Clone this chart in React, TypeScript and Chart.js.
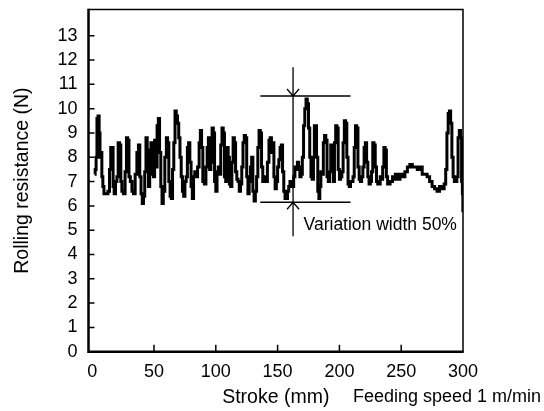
import React, { useEffect, useRef } from "react";
import { Chart, registerables } from "chart.js";
Chart.register(...registerables);

const strokeMm = [
  2.0, 2.8, 3.5, 4.2, 5.2, 6.0, 6.6, 7.4, 8.2, 9.0, 10.0, 12.0, 13.5, 14.5, 15.5, 16.5, 17.3, 18.2, 19.5, 20.5,
  21.5, 22.8, 23.5, 24.5, 26.0, 27.2, 28.2, 29.3, 30.2, 31.5, 32.8, 34.0, 35.5, 36.8, 38.0, 39.0, 40.0, 41.0, 42.0, 43.0,
  44.0, 45.0, 46.0, 47.0, 48.0, 49.0, 50.0, 51.0, 52.0, 53.0, 54.0, 55.0, 56.0, 57.0, 58.0, 59.5, 60.5, 61.5, 62.5, 63.5,
  64.5, 65.5, 66.5, 67.5, 68.5, 69.5, 70.5, 71.5, 72.5, 73.5, 74.5, 75.5, 76.5, 77.5, 78.5, 79.5, 80.5, 81.5, 82.5, 83.5,
  84.5, 86.0, 87.0, 88.0, 89.0, 90.0, 91.5, 92.5, 93.5, 94.5, 95.5, 96.5, 97.5, 98.5, 99.5, 100.5, 101.5, 102.5, 103.5, 104.5,
  105.5, 106.5, 107.5, 108.5, 109.5, 110.5, 111.5, 112.5, 113.5, 114.5, 115.5, 116.5, 117.5, 118.5, 119.5, 120.5, 121.5, 122.5, 123.5, 124.5,
  125.5, 126.5, 127.5, 128.5, 129.5, 130.5, 131.5, 132.5, 133.5, 134.5, 135.5, 136.5, 137.5, 138.5, 139.5, 141.0, 142.5, 143.5, 144.5, 145.5,
  146.5, 147.5, 148.5, 149.5, 150.5, 151.5, 152.5, 153.5, 154.5, 155.5, 156.5, 157.5, 158.5, 159.5, 160.5, 161.5, 162.5, 163.5, 164.5, 165.5,
  166.5, 167.5, 168.5, 169.5, 170.5, 171.5, 172.5, 173.5, 174.5, 175.5, 176.5, 177.5, 178.5, 179.5, 180.0, 181.0, 182.0, 183.0, 183.8, 184.5,
  185.5, 186.5, 187.5, 188.5, 189.5, 190.5, 191.5, 192.5, 193.5, 194.5, 195.5, 196.5, 197.5, 198.5, 199.5, 200.5, 201.5, 202.5, 203.5, 204.5,
  205.5, 206.5, 207.5, 208.5, 209.5, 210.5, 211.5, 212.5, 213.5, 214.5, 215.5, 216.5, 217.5, 218.5, 219.5, 220.5, 221.5, 222.5, 223.5, 224.5,
  225.5, 226.5, 227.5, 228.5, 229.5, 230.5, 231.5, 232.5, 233.5, 234.5, 235.5, 236.5, 237.5, 238.5, 239.5, 240.5, 241.5, 242.5, 243.5, 244.5,
  246.0, 248.0, 250.0, 252.0, 254.0, 256.0, 258.0, 260.0, 262.0, 264.0, 266.0, 268.0, 270.0, 272.0, 274.0, 276.0, 278.0, 280.0, 282.0, 284.0,
  285.5, 286.5, 287.5, 288.5, 289.5, 290.5, 291.5, 292.5, 293.5, 294.5, 295.5, 296.5, 297.5, 298.5, 299.2, 299.8, 300.0,
];

const resistanceN = [
  7.3, 7.5, 8.0, 9.6, 9.7, 9.0, 8.0, 8.2, 7.2, 6.8, 6.5, 6.5, 6.6, 7.5, 8.4, 8.4, 6.8, 6.5, 7.0, 7.2,
  8.6, 8.5, 7.0, 6.6, 6.5, 7.4, 8.8, 8.7, 7.2, 7.0, 6.6, 6.5, 7.3, 8.2, 8.5, 7.2, 6.5, 6.1, 6.4, 7.4,
  8.8, 8.3, 6.8, 7.3, 8.6, 8.0, 7.2, 8.7, 7.6, 9.3, 9.6, 8.2, 6.8, 6.1, 6.6, 8.0, 8.8, 8.6, 7.0, 6.4,
  6.3, 7.5, 8.6, 9.9, 9.7, 9.4, 8.8, 8.0, 7.2, 6.6, 6.4, 7.0, 7.2, 8.4, 8.6, 7.8, 6.8, 6.3, 7.2, 7.4,
  7.2, 7.6, 8.6, 9.1, 8.4, 7.0, 6.9, 7.6, 8.4, 8.8, 7.5, 7.8, 9.2, 9.0, 7.0, 6.6, 7.4, 7.6, 7.3, 8.5,
  9.2, 9.0, 7.2, 7.0, 8.4, 8.0, 6.9, 6.8, 7.8, 8.8, 8.6, 7.4, 7.1, 7.0, 6.6, 6.9, 7.6, 8.6, 8.9, 8.8,
  7.2, 6.5, 7.0, 7.6, 8.0, 6.6, 6.2, 6.6, 7.2, 8.4, 9.1, 9.0, 7.6, 7.0, 7.2, 7.0, 7.8, 8.7, 8.8, 8.2,
  8.6, 7.2, 6.7, 7.0, 7.6, 7.9, 8.4, 8.5, 7.4, 6.6, 6.3, 6.3, 6.6, 6.8, 7.0, 7.0, 6.8, 7.2, 7.6, 7.5,
  7.8, 7.6, 7.2, 7.3, 8.0, 9.3, 10.0, 10.4, 10.2, 9.2, 8.0, 7.2, 7.1, 8.0, 9.3, 9.3, 8.0, 6.6, 6.3, 6.8,
  7.4, 7.3, 8.6, 8.9, 8.7, 7.2, 7.0, 7.4, 8.5, 8.4, 7.0, 8.6, 9.3, 9.2, 7.5, 7.1, 7.2, 7.4, 8.6, 9.5,
  9.4, 8.0, 6.9, 6.8, 7.0, 7.0, 7.2, 8.4, 9.3, 9.2, 7.6, 7.1, 7.0, 7.2, 7.6, 8.4, 8.6, 7.8, 7.2, 6.9,
  7.0, 7.4, 8.6, 8.5, 7.6, 7.0, 6.9, 6.9, 7.2, 7.1, 7.6, 8.4, 8.3, 7.2, 6.9, 6.9, 7.0, 7.0, 7.2, 7.1,
  7.3, 7.1, 7.3, 7.2, 7.4, 7.6, 7.7, 7.6, 7.6, 7.5, 7.6, 7.3, 7.3, 7.2, 7.0, 6.8, 6.7, 6.6, 6.8, 6.7,
  6.9, 7.5, 9.0, 9.8, 9.9, 9.4, 8.0, 7.2, 7.0, 7.0, 7.2, 8.8, 9.1, 8.8, 7.0, 6.5, 5.8,
];

const xTickValues = [0, 50, 100, 150, 200, 250, 300];
const yTickValues = [0, 1, 2, 3, 4, 5, 6, 7, 8, 9, 10, 11, 12, 13];

const xAxisTitle = "Stroke (mm)";
const yAxisTitle = "Rolling resistance (N)";
const speedNote = "Feeding speed 1 m/min";

const variationLabel = "Variation width 50%";
const variationStroke = 162.5;
const variationUpper = 10.52;
const variationLower = 6.15;
const variationSpanStart = 136;
const variationSpanEnd = 209;
const variationExtendTop = 11.7;
const variationExtendBottom = 4.75;
const variationLabelStroke = 171;
const variationLabelValue = 5.2;

const FONT = "'Liberation Sans', Arial, Helvetica, sans-serif";

const framePlugin = {
  id: "framePlugin",
  afterDatasetsDraw(chart: any) {
    const { ctx, chartArea, scales } = chart;
    const xs = scales.x;
    const ys = scales.y;
    const { left, right, top, bottom } = chartArea;
    ctx.save();
    ctx.strokeStyle = "#000";
    ctx.lineCap = "butt";
    ctx.lineWidth = 1.5;
    ctx.beginPath();
    ctx.moveTo(left, top);
    ctx.lineTo(right, top);
    ctx.lineTo(right, bottom);
    ctx.stroke();
    ctx.lineWidth = 2.5;
    ctx.beginPath();
    ctx.moveTo(left, top - 0.75);
    ctx.lineTo(left, bottom);
    ctx.lineTo(right + 0.75, bottom);
    ctx.stroke();
    ctx.lineWidth = 1.5;
    ctx.beginPath();
    for (const v of yTickValues) {
      if (v === 0) continue;
      const py = ys.getPixelForValue(v);
      ctx.moveTo(left, py);
      ctx.lineTo(left + 6, py);
    }
    for (const v of xTickValues) {
      if (v === 0 || v === 300) continue;
      const px = xs.getPixelForValue(v);
      ctx.moveTo(px, bottom);
      ctx.lineTo(px, bottom - 7);
    }
    ctx.stroke();

    const vx = xs.getPixelForValue(variationStroke);
    const yU = ys.getPixelForValue(variationUpper);
    const yL = ys.getPixelForValue(variationLower);
    const x0 = xs.getPixelForValue(variationSpanStart);
    const x1 = xs.getPixelForValue(variationSpanEnd);
    ctx.lineWidth = 1.3;
    ctx.beginPath();
    ctx.moveTo(x0, yU);
    ctx.lineTo(x1, yU);
    ctx.moveTo(x0, yL);
    ctx.lineTo(x1, yL);
    ctx.moveTo(vx, ys.getPixelForValue(variationExtendTop));
    ctx.lineTo(vx, ys.getPixelForValue(variationExtendBottom));
    ctx.moveTo(vx - 6, yU - 7);
    ctx.lineTo(vx, yU);
    ctx.lineTo(vx + 6, yU - 7);
    ctx.moveTo(vx - 6, yL + 7);
    ctx.lineTo(vx, yL);
    ctx.lineTo(vx + 6, yL + 7);
    ctx.stroke();

    ctx.fillStyle = "#000";
    ctx.font = `17.5px ${FONT}`;
    ctx.textAlign = "left";
    ctx.textBaseline = "middle";
    ctx.fillText(
      variationLabel,
      xs.getPixelForValue(variationLabelStroke),
      ys.getPixelForValue(variationLabelValue)
    );
    ctx.font = `18px ${FONT}`;
    ctx.fillText(speedNote, right - 110, 397);
    ctx.restore();
  },
};

export default function App() {
  const ref = useRef<HTMLCanvasElement | null>(null);
  useEffect(() => {
    if (!ref.current) return;
    const points = strokeMm.map((x, i) => ({ x, y: resistanceN[i] }));
    const chart = new Chart(ref.current, {
      type: "scatter",
      data: {
        datasets: [
          {
            data: points,
            showLine: true,
            borderColor: "#000",
            borderWidth: 3,
            pointRadius: 0,
            tension: 0,
            stepped: "middle",
          } as any,
        ],
      },
      options: {
        animation: false,
        responsive: false,
        devicePixelRatio: 1,
        layout: { padding: { left: 0, right: 81, top: 9.5, bottom: 0 } },
        plugins: { legend: { display: false }, tooltip: { enabled: false } },
        scales: {
          x: {
            type: "linear",
            min: -3,
            max: 300,
            afterBuildTicks: (scale: any) => {
              scale.ticks = xTickValues.map((v) => ({ value: v }));
            },
            afterFit: (scale: any) => {
              scale.height = 59.3;
              scale.paddingLeft = 0;
              scale.paddingRight = 0;
            },
            grid: { display: false, drawTicks: false },
            border: { display: false },
            ticks: {
              color: "#000",
              font: { family: FONT, size: 18 },
              padding: 10,
              maxRotation: 0,
              autoSkip: false,
            },
            title: {
              display: true,
              text: xAxisTitle,
              color: "#000",
              font: { family: FONT, size: 19.5 },
              padding: { top: 0, bottom: 2 },
            },
          },
          y: {
            type: "linear",
            min: 0,
            max: 14.08,
            afterBuildTicks: (scale: any) => {
              scale.ticks = yTickValues.map((v) => ({ value: v }));
            },
            afterFit: (scale: any) => {
              scale.width = 88.5;
              scale.paddingTop = 0;
              scale.paddingBottom = 0;
            },
            grid: { display: false, drawTicks: false },
            border: { display: false },
            ticks: {
              color: "#000",
              font: { family: FONT, size: 18 },
              padding: 11,
              autoSkip: false,
            },
            title: {
              display: true,
              text: yAxisTitle,
              color: "#000",
              font: { family: FONT, size: 19.5 },
              padding: { top: 10.5, bottom: 0 },
            },
          },
        },
      },
      plugins: [framePlugin],
    });
    return () => chart.destroy();
  }, []);
  return (
    <div style={{ position: "fixed", left: 0, top: 0, width: 544, height: 411, background: "#fff" }}>
      <canvas ref={ref} width={544} height={411} />
    </div>
  );
}
